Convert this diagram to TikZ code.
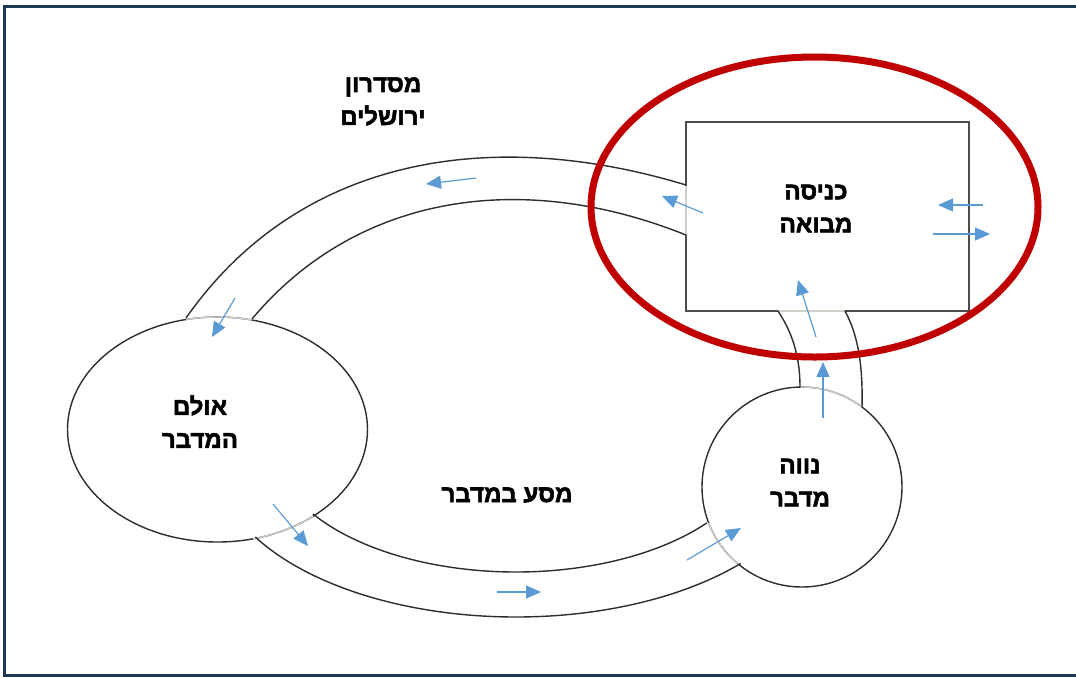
\documentclass[tikz,border=0pt]{standalone}
\usepackage{fontspec}
\setmainfont{Liberation Sans}
\newfontfamily\hebfont[Script=Hebrew, FakeBold=2.3]{Liberation Sans Bold}
\TeXXeTstate=1
\usetikzlibrary{arrows.meta,shapes.geometric}
\definecolor{framec}{RGB}{31,56,86}
\definecolor{flowc}{RGB}{91,155,213}
\definecolor{ringc}{RGB}{192,0,0}
\definecolor{edgec}{RGB}{45,45,45}
\definecolor{openc}{RGB}{208,208,200}
\begin{document}
\begin{tikzpicture}[x=0.5pt,y=-0.5pt,
  lbl/.style={font=\hebfont\fontsize{12}{16.5}\selectfont, align=center, inner sep=0pt},
  shapeline/.style={draw=edgec, line width=0.7pt, inner sep=0pt},
  wall/.style={draw=edgec, line width=0.7pt},
  opening/.style={draw=openc, line width=0.7pt},
  flow/.style={draw=flowc, line width=0.6pt, -{Triangle[length=7.5pt,width=6.5pt]}}]
\useasboundingbox (0,0) rectangle (1076,677);
\draw[framec, line width=1.5pt] (1085,6.5) -- (4,6.5) -- (4,675.5) -- (1085,675.5);

% main shapes
\node[ellipse, shapeline, minimum width=150pt, minimum height=112.5pt] (hall) at (217.5,429.5) {};
\node[circle, shapeline, minimum size=100pt] (oasis) at (802,487) {};
\node[rectangle, shapeline, draw=edgec!85, minimum width=141.5pt, minimum height=94.5pt] (lobby) at (827.5,216.5) {};

% openings
\draw[opening] plot[domain=76.7:102, samples=20] ({217.5+150*cos(\x)},{429.5-112.5*sin(\x)});
\draw[opening] plot[domain=-76.3:-50.4, samples=20] ({217.5+150*cos(\x)},{429.5-112.5*sin(\x)});
\draw[opening] plot[domain=53.1:91.1, samples=20] ({802+100*cos(\x)},{487-100*sin(\x)});
\draw[opening] plot[domain=201:230.8, samples=20] ({802+100*cos(\x)},{487-100*sin(\x)});
\draw[opening] (686,186) -- (686,235);
\draw[opening] (778,311) -- (845,311);

% top corridor
\draw[wall] (186,318) .. controls (301,154) and (495,127) .. (686,185);
\draw[wall] (252,319) .. controls (355,196) and (519,168) .. (686,235);
% bottom corridor
\draw[wall] plot[domain=213.6:321.5, samples=90] ({516+243.8*cos(\x)},{442-130*sin(\x)});
\draw[wall] plot[domain=210:318.3, samples=90] ({516+301*cos(\x)},{457-160*sin(\x)});
% vertical corridor
\draw[wall] (778,311) .. controls (794,335) and (800,360) .. (800,387);
\draw[wall] (845,311) .. controls (858,335) and (863,365) .. (862,407);

% flow arrows
\draw[flow] (476,178) -- (426,184);
\draw[flow] (235,298) -- (212,337);
\draw[flow] (273,504) -- (308,546);
\draw[flow] (497,592) -- (541,592);
\draw[flow] (687,560) -- (741,528);
\draw[flow] (823,418) -- (823,362);
\draw[flow] (816,337) -- (798,280);
\draw[flow] (703,213) -- (662,196);
\draw[flow] (983,205) -- (938,205);
\draw[flow] (933,234) -- (990,234);

% labels
\node[lbl] (tcorr) at (383,101.5) {\beginR מסדרון\endR\\\beginR ירושלים\endR};
\node[lbl] (thall) at (200,421.5) {\beginR אולם\endR\\\beginR המדבר\endR};
\node[lbl] (ttrip) at (507,495) {\beginR מסע במדבר\endR};
\node[lbl] (toasis) at (800,482.5) {\beginR נווה\endR\\\beginR מדבר\endR};
\node[lbl] (tlobby) at (816,208.5) {\beginR כניסה\endR\\\beginR מבואה\endR};

% highlight ring
\draw[ringc, line width=3.5pt] (814.5,207) ellipse [x radius=111.75pt, y radius=75pt];
\end{tikzpicture}
\end{document}
